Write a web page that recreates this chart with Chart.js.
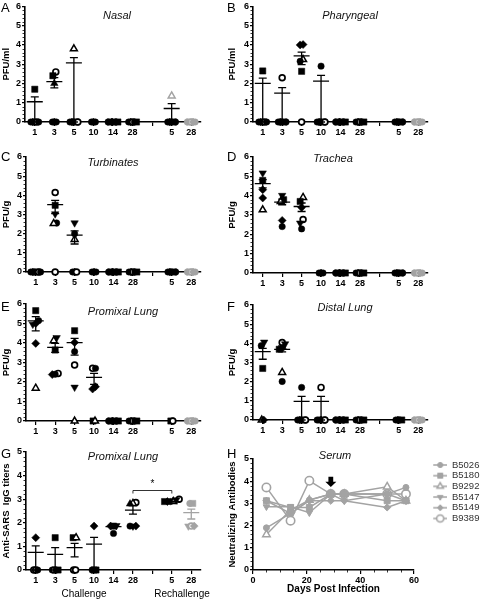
<!DOCTYPE html>
<html><head><meta charset="utf-8">
<script src="https://cdn.jsdelivr.net/npm/chart.js@4.4.1/dist/chart.umd.min.js"></script>
<style>
html,body{margin:0;padding:0;background:#fff;}
#wrap{position:relative;width:480px;height:599px;overflow:hidden;font-family:"Liberation Sans",Arial,sans-serif;color:#000;}
#wrap canvas{position:absolute;}
.lbl{position:absolute;white-space:nowrap;line-height:1;}
.ttl{font-style:italic;font-size:11px;transform:translate(-50%,-50%);color:#111;}
.let{font-size:13px;}
.sub{font-size:10px;transform:translate(-50%,-50%);}
</style></head>
<body><div id="wrap"></div>
<script>
const GRAY = '#a3a3a3';
const FONT = '"Liberation Sans", Arial, sans-serif';
const xLabels = ['1','3','5','10','14','28','','5','28'];

// A  Nasal (PFU/ml)
const nasalVals  = [[1.7,0,0,0,0,0],[2.6,2.4,2.0,0,0,0],[3.8,0,0,0,0,0],[0,0,0],[0,0,0,0,0,0],[0,0,0,0,0],[],[1.35,0,0,0,0,0],[0,0,0,0,0]];
const nasalMarks = ['scdcoc','osacdc','tcdcso','cdc','csdscs','cdocs','','Tcdcsc','CSODC'];
const nasalMean  = [1.05,2.1,3.07,null,null,null,null,0.7,null];
const nasalHi    = [1.3,2.3,3.34,null,null,null,null,0.95,null];
const nasalLo    = [0,1.77,0,null,null,null,null,0,null];

// B  Pharyngeal
const pharVals  = [[2.65,0,0,0,0,0],[2.3,0,0,0,0,0],[4.02,4.0,3.24,3.15,2.63,0],[2.9,0,0,0,0,0],[0,0,0,0,0,0],[0,0,0,0,0],[],[0,0,0,0,0],[0,0,0,0,0]];
const pharMarks = ['scdcoc','ocdcsc','ddtcso','ccdcso','csdscs','cdocs','','cdcsc','CSODC'];
const pharMean  = [2.0,1.5,3.43,2.12,null,null,null,null,null];
const pharHi    = [2.28,1.78,3.63,2.42,null,null,null,null,null];
const pharLo    = [0,0,2.98,0,null,null,null,null,null];

// C  Turbinates (PFU/g)
const turbVals  = [[0,0,0,0,0,0],[4.15,3.48,3.03,2.56,2.53,0],[2.56,2.0,1.7,0,0,0],[0,0,0],[0,0,0,0,0,0],[0,0,0,0,0],[],[0,0,0,0,0],[0,0,0,0,0]];
const turbMarks = ['cdcsoc','osvcto','vctcdo','cdc','csdscs','cdocs','','cdcsc','CSODC'];
const turbMean  = [null,3.52,1.92,null,null,null,null,null,null];
const turbHi    = [null,3.74,2.15,null,null,null,null,null,null];
const turbLo    = [null,3.05,1.46,null,null,null,null,null,null];

// D  Trachea
const trachVals  = [[5.17,4.79,4.31,3.88,3.27],[4.01,3.79,3.7,2.72,2.4],[3.91,3.7,3.39,2.77,2.58,2.28],[0,0,0],[0,0,0,0,0,0],[0,0,0,0,0],[],[0,0,0,0,0],[0,0,0,0,0]];
const trachMarks = ['vsddt','vstdc','tsdovc','cdc','csdscs','cdocs','','cdcsc','CSODC'];
const trachMean  = [4.62,3.67,3.44,null,null,null,null,null,null];
const trachHi    = [4.83,3.82,3.62,null,null,null,null,null,null];
const trachLo    = [4.4,3.53,3.18,null,null,null,null,null,null];

// E  Proximal lung
const proxVals  = [[5.66,5.15,5.0,4.96,3.98,1.68],[4.27,4.12,3.64,2.44,2.38,2.4],[4.63,4.03,3.56,2.87,1.73,0],[2.7,2.7,1.76,1.64,0,0],[0,0,0,0,0,0],[0,0,0,0,0],[],[0,0],[0,0,0,0,0]];
const proxMarks = ['scdvdt','vtsodc','sdcovt','ocddst','csdscs','cdocs','','so','CSODC'];
const proxMean  = [5.13,3.78,4.02,2.24,null,null,null,null,null];
const proxHi    = [5.35,3.98,4.24,2.44,null,null,null,null,null];
const proxLo    = [4.62,3.52,3.38,1.88,null,null,null,null,null];

// F  Distal lung
const distVals  = [[4.06,3.88,2.69,0,0],[4.04,3.97,3.74,3.69,2.48,2.01],[1.7,0,0,0,0,0],[1.7,0,0,0,0,0],[0,0,0,0,0,0],[0,0,0,0,0],[],[0,0,0,0],[0,0,0,0,0]];
const distMarks = ['vcstd','ovdstc','ccdcso','occdso','csdscs','cdocs','','cdcs','CSODC'];
const distMean  = [3.57,3.69,0.97,0.97,null,null,null,null,null];
const distHi    = [3.74,3.86,1.23,1.23,null,null,null,null,null];
const distLo    = [3.17,3.55,0,0,null,null,null,null,null];

// G  Anti-SARS IgG titers
const iggVals  = [[1.37,0,0,0],[1.37,0,0,0,0],[1.37,1.37,0,0],[1.86,0,0,0],[1.88,1.86,1.86,1.55],[2.86,2.82,2.8,1.86,1.86,1.86],[],[3.0,2.97,2.9,2.9,2.9,2.9],[2.82,2.82,1.86,1.86,1.86]];
const iggMarks = ['dooc','scocs','stoo','dcss','vdsc','otacvd','','ovsdct','CSVOD'];
const iggMean  = [0.75,0.66,0.95,1.1,1.84,2.54,null,2.9,2.43];
const iggHi    = [1.02,0.95,1.13,1.38,1.88,2.73,null,2.97,2.58];
const iggLo    = [0,0,0.56,0,1.8,2.37,null,2.83,2.16];
const iggSig   = [5,7,3.4];

// H  Serum neutralizing antibodies
const serumDays  = [5,14,21,29,34,50,57];
const serumNames = ['B5026','B5180','B9292','B5147','B5149','B9389'];
const b5026 = [1.9,2.55,3.15,3.42,3.42,3.42,3.72];
const b5180 = [3.12,2.82,2.82,3.42,3.42,3.12,3.12];
const b9292 = [1.6,2.7,3.15,3.42,3.42,3.75,3.12];
const b5147 = [2.85,2.85,2.58,3.42,3.12,3.42,3.12];
const b5149 = [3.12,2.55,3.12,3.12,3.12,2.82,3.12];
const b9389 = [3.72,2.22,4.02,3.42,3.42,3.42,3.42];
const arrowDay = 29, arrowTop = 4.2, arrowTip = 3.74;

const wrap = document.getElementById('wrap');
function mkCanvas([x,y,w,h]) {
  const c = document.createElement('canvas');
  c.width = w; c.height = h;
  c.style.left = x+'px'; c.style.top = y+'px'; c.style.width = w+'px'; c.style.height = h+'px';
  wrap.appendChild(c);
  return c;
}
function addText(cls, txt, x, y, extra) {
  const d = document.createElement('div');
  d.className = 'lbl ' + cls; d.textContent = txt;
  d.style.left = x+'px'; d.style.top = y+'px';
  if (extra) Object.assign(d.style, extra);
  wrap.appendChild(d);
}

function markStyle(code) {
  const gray = code !== code.toLowerCase();
  const c = code.toLowerCase();
  const col = gray ? GRAY : '#000';
  switch (c) {
    case 'c': return {style:'circle', r:3.2, bg:col, bd:col, bw:0.5, rot:0};
    case 'o': return {style:'circle', r:2.9, bg:'#fff', bd:col, bw:1.7, rot:0};
    case 's': return {style:'rect', r:4.4, bg:col, bd:col, bw:0.5, rot:0};
    case 't': return {style:'triangle', r:4, bg:'#fff', bd:col, bw:1.5, rot:0};
    case 'a': return {style:'triangle', r:4.3, bg:col, bd:col, bw:0.5, rot:0};
    case 'v': return {style:'triangle', r:4.3, bg:col, bd:col, bw:0.5, rot:180};
    case 'd': return {style:'rectRot', r:4, bg:col, bd:col, bw:0.5, rot:0};
  }
  return {style:'circle', r:3, bg:col, bd:col, bw:0.5, rot:0};
}

function swarm(vals, gi) {
  const idx = vals.map((v,k)=>k).sort((a,b)=>vals[a]-vals[b]);
  const xs = vals.map(()=>gi);
  let i = 0;
  while (i < idx.length) {
    let j = i;
    while (j + 1 < idx.length && vals[idx[j+1]] - vals[idx[i]] < 0.3) j++;
    const n = j - i + 1;
    const step = vals[idx[i]] === 0 ? 0.1 : 0.15;
    for (let k = i; k <= j; k++) xs[idx[k]] = gi + (k - i - (n-1)/2) * step;
    i = j + 1;
  }
  return xs;
}

const tickFont = {family: FONT, size: 9, weight: 'bold'};
const titleFont = {family: FONT, size: 9.5, weight: 'bold'};

function panelPlugin(p) {
  return {
    id: 'extra' + p.id,
    afterDatasetsDraw(chart) {
      const {ctx, scales:{x, y}, chartArea} = chart;
      ctx.save();
      ctx.strokeStyle = '#000'; ctx.lineWidth = 0.8;
      const L = chartArea.left;
      for (let k = 1; k < p.ymax * 5; k++) {
        if (k % 5 === 0) continue;
        const py = Math.round(y.getPixelForValue(k / 5)) + 0.5;
        ctx.beginPath(); ctx.moveTo(L - 2.5, py); ctx.lineTo(L, py); ctx.stroke();
      }
      p.mean.forEach((m, gi) => {
        if (m == null) return;
        const px = x.getPixelForValue(gi);
        ctx.strokeStyle = (p.errColor && p.errColor[gi]) || '#000';
        ctx.lineWidth = 1.3;
        const ym = y.getPixelForValue(m), yh = y.getPixelForValue(p.hi[gi]), yl = y.getPixelForValue(p.lo[gi]);
        ctx.beginPath();
        ctx.moveTo(px, yh); ctx.lineTo(px, yl);
        ctx.moveTo(px - 4, yh); ctx.lineTo(px + 4, yh);
        ctx.moveTo(px - 4, yl); ctx.lineTo(px + 4, yl);
        ctx.moveTo(px - 8, ym); ctx.lineTo(px + 8, ym);
        ctx.stroke();
      });
      if (p.sig) {
        const [a, b, v] = p.sig;
        const x1 = x.getPixelForValue(a), x2 = x.getPixelForValue(b), yb = Math.round(y.getPixelForValue(v)) + 0.5;
        ctx.strokeStyle = '#000'; ctx.lineWidth = 0.8;
        ctx.beginPath(); ctx.moveTo(x1, yb + 3); ctx.lineTo(x1, yb); ctx.lineTo(x2, yb); ctx.lineTo(x2, yb + 3); ctx.stroke();
        ctx.fillStyle = '#000'; ctx.font = '10px ' + FONT; ctx.textAlign = 'center'; ctx.textBaseline = 'middle';
        ctx.fillText('*', (x1 + x2) / 2, yb - 6);
      }
      ctx.restore();
    }
  };
}

function scatterPanel(p) {
  const [cx, cy, cw, ch] = p.canvas; const [L, R, T, B] = p.area;
  const cv = mkCanvas(p.canvas);
  const datasets = p.vals.map((grp, gi) => {
    const xs = swarm(grp, gi);
    const st = p.marks[gi].split('').map(markStyle);
    return {
      label: 'g' + gi,
      data: grp.map((v, k) => ({x: xs[k], y: v})),
      pointStyle: st.map(s => s.style), pointRadius: st.map(s => s.r), pointHoverRadius: st.map(s => s.r),
      pointRotation: st.map(s => s.rot), pointBackgroundColor: st.map(s => s.bg),
      pointBorderColor: st.map(s => s.bd), pointBorderWidth: st.map(s => s.bw),
      showLine: false, clip: false
    };
  });
  new Chart(cv, {
    type: 'scatter',
    data: {datasets},
    options: {
      responsive: false, animation: false, devicePixelRatio: 1, events: [],
      layout: {padding: {left: 0, top: T - cy, right: cx + cw - R, bottom: 0}},
      plugins: {legend: {display: false}, tooltip: {enabled: false}},
      scales: {
        x: {
          type: 'linear', min: -0.5, max: 8.5,
          afterBuildTicks: s => { s.ticks = xLabels.map((l, i) => ({value: i})); },
          afterFit: s => { s.height = cy + ch - B; },
          ticks: {callback: v => xLabels[v] ?? '', font: tickFont, color: '#000', padding: 1, maxRotation: 0, autoSkip: false},
          grid: {display: true, drawOnChartArea: false, drawTicks: true, tickLength: 4, color: '#000', lineWidth: 1.2},
          border: {display: true, color: '#000', width: 1.6}
        },
        y: {
          min: 0, max: p.ymax,
          afterFit: s => { s.width = L - cx; },
          ticks: {stepSize: 1, font: tickFont, color: '#000', padding: 1},
          grid: {display: true, drawOnChartArea: false, drawTicks: true, tickLength: 3, color: '#000', lineWidth: 1.2},
          border: {display: true, color: '#000', width: 1.6},
          title: {display: true, text: p.ytitle, font: titleFont, color: '#000', padding: {top: 1, bottom: 0}}
        }
      }
    },
    plugins: [panelPlugin(p)]
  });
}

const panels = [
  {id:'A', canvas:[0,0,226,145],   area:[25,201,6,122],   ymax:6, ytitle:'PFU/ml', vals:nasalVals, marks:nasalMarks, mean:nasalMean, hi:nasalHi, lo:nasalLo},
  {id:'B', canvas:[226,0,254,145], area:[253,428,6,122],  ymax:6, ytitle:'PFU/ml', vals:pharVals, marks:pharMarks, mean:pharMean, hi:pharHi, lo:pharLo},
  {id:'C', canvas:[0,145,226,145], area:[26,201,157,272], ymax:6, ytitle:'PFU/g', vals:turbVals, marks:turbMarks, mean:turbMean, hi:turbHi, lo:turbLo},
  {id:'D', canvas:[226,145,254,145], area:[253,428,157,273], ymax:6, ytitle:'PFU/g', vals:trachVals, marks:trachMarks, mean:trachMean, hi:trachHi, lo:trachLo},
  {id:'E', canvas:[0,290,226,150], area:[26,201,304,421], ymax:6, ytitle:'PFU/g', vals:proxVals, marks:proxMarks, mean:proxMean, hi:proxHi, lo:proxLo},
  {id:'F', canvas:[226,290,254,150], area:[253,428,305,420], ymax:6, ytitle:'PFU/g', vals:distVals, marks:distMarks, mean:distMean, hi:distHi, lo:distLo},
  {id:'G', canvas:[0,440,226,159], area:[26,201,452,570], ymax:5, ytitle:'Anti-SARS  IgG titers', vals:iggVals, marks:iggMarks, mean:iggMean, hi:iggHi, lo:iggLo,
   errColor:[null,null,null,null,null,null,null,null,GRAY], sig:iggSig}
];
panels.forEach(scatterPanel);

// ---- H: serum ----
function drawMark(ctx, s, x, y) {
  ctx.beginPath();
  const r = s.r;
  if (s.style === 'circle') ctx.arc(x, y, r, 0, Math.PI * 2);
  else if (s.style === 'rect') { const h = r * Math.SQRT1_2; ctx.rect(x - h, y - h, 2 * h, 2 * h); }
  else if (s.style === 'rectRot') { ctx.moveTo(x, y - r); ctx.lineTo(x + r, y); ctx.lineTo(x, y + r); ctx.lineTo(x - r, y); ctx.closePath(); }
  else {
    const off = s.rot === 180 ? Math.PI : 0;
    for (let k = 0; k < 3; k++) {
      const a = off + k * 2 * Math.PI / 3;
      const px = x + Math.sin(a) * r, py = y - Math.cos(a) * r;
      if (k === 0) ctx.moveTo(px, py); else ctx.lineTo(px, py);
    }
    ctx.closePath();
  }
  ctx.fillStyle = s.bg; ctx.fill();
  ctx.strokeStyle = s.bd; ctx.lineWidth = s.bw; ctx.stroke();
}
const serumSeries = [b5026, b5180, b9292, b5147, b5149, b9389];
const serumStyles = [
  {style:'circle', r:3, bg:GRAY, bd:GRAY, bw:1, rot:0},
  {style:'rect', r:4.2, bg:GRAY, bd:GRAY, bw:1, rot:0},
  {style:'triangle', r:4.3, bg:'#fff', bd:GRAY, bw:1.5, rot:0},
  {style:'triangle', r:3.8, bg:GRAY, bd:GRAY, bw:1, rot:180},
  {style:'rectRot', r:3.6, bg:GRAY, bd:GRAY, bw:1, rot:0},
  {style:'circle', r:4.2, bg:'#fff', bd:GRAY, bw:1.6, rot:0}
];
const legendImgs = serumStyles.map(s => {
  const c = document.createElement('canvas'); c.width = 32; c.height = 12;
  const g = c.getContext('2d');
  g.strokeStyle = GRAY; g.lineWidth = 1.5;
  g.beginPath(); g.moveTo(18, 6); g.lineTo(32, 6); g.stroke();
  drawMark(g, Object.assign({}, s, {r: s.r * 0.85}), 25, 6);
  return c;
});
const H = {canvas:[226,440,254,159], area:[253,414,459,570]};
{
  const [cx, cy, cw, ch] = H.canvas; const [L, R, T, B] = H.area;
  const cv = mkCanvas(H.canvas);
  new Chart(cv, {
    type: 'scatter',
    data: {datasets: serumSeries.map((vals, i) => ({
      label: serumNames[i],
      data: vals.map((v, k) => ({x: serumDays[k], y: v})),
      showLine: true, borderColor: GRAY, borderWidth: 1.5, clip: false,
      pointStyle: serumStyles[i].style, pointRadius: serumStyles[i].r, pointHoverRadius: serumStyles[i].r,
      pointRotation: serumStyles[i].rot, pointBackgroundColor: serumStyles[i].bg,
      pointBorderColor: serumStyles[i].bd, pointBorderWidth: serumStyles[i].bw
    }))},
    options: {
      responsive: false, animation: false, devicePixelRatio: 1, events: [],
      layout: {padding: {left: 0, top: T - cy, right: 0, bottom: 0}},
      plugins: {
        tooltip: {enabled: false},
        legend: {
          position: 'right', align: 'start', maxWidth: cx + cw - R,
          labels: {
            usePointStyle: true, pointStyleWidth: 32, padding: 1.2, color: '#333',
            font: {family: FONT, size: 9.5},
            generateLabels: chart => chart.data.datasets.map((ds, i) => ({
              text: ds.label, pointStyle: legendImgs[i], fillStyle: '#fff', strokeStyle: '#fff',
              lineWidth: 0, hidden: false, datasetIndex: i, fontColor: '#333'
            }))
          }
        }
      },
      scales: {
        x: {
          type: 'linear', min: 0, max: 60,
          afterFit: s => { s.height = cy + ch - B; },
          ticks: {stepSize: 20, font: tickFont, color: '#000', padding: 1, maxRotation: 0},
          grid: {display: true, drawOnChartArea: false, drawTicks: true, tickLength: 4, color: '#000', lineWidth: 1.2},
          border: {display: true, color: '#000', width: 1.6},
          title: {display: true, text: 'Days Post Infection', font: {family: FONT, size: 10, weight: 'bold'}, color: '#000', padding: {top: 0, bottom: 4}}
        },
        y: {
          min: 0, max: 5,
          afterFit: s => { s.width = L - cx; },
          ticks: {stepSize: 1, font: tickFont, color: '#000', padding: 1},
          grid: {display: true, drawOnChartArea: false, drawTicks: true, tickLength: 3, color: '#000', lineWidth: 1.2},
          border: {display: true, color: '#000', width: 1.6},
          title: {display: true, text: 'Neutralizing Antibodies', font: titleFont, color: '#000', padding: {top: 1, bottom: 0}}
        }
      }
    },
    plugins: [{
      id: 'serumExtra',
      afterDatasetsDraw(chart) {
        const {ctx, scales:{x, y}, chartArea} = chart;
        ctx.save();
        ctx.strokeStyle = '#000'; ctx.lineWidth = 0.8;
        for (let k = 1; k < 25; k++) {
          if (k % 5 === 0) continue;
          const py = Math.round(y.getPixelForValue(k / 5)) + 0.5;
          ctx.beginPath(); ctx.moveTo(chartArea.left - 2.5, py); ctx.lineTo(chartArea.left, py); ctx.stroke();
        }
        for (let d = 5; d < 60; d += 5) {
          if (d % 20 === 0) continue;
          const px = Math.round(x.getPixelForValue(d)) + 0.5;
          ctx.beginPath(); ctx.moveTo(px, chartArea.bottom); ctx.lineTo(px, chartArea.bottom + 2.5); ctx.stroke();
        }
        const ax = x.getPixelForValue(arrowDay), y1 = y.getPixelForValue(arrowTop), y2 = y.getPixelForValue(arrowTip);
        const hy = y2 - (y2 - y1) * 0.5;
        ctx.fillStyle = '#000';
        ctx.beginPath();
        ctx.moveTo(ax - 2.4, y1); ctx.lineTo(ax + 2.4, y1); ctx.lineTo(ax + 2.4, hy); ctx.lineTo(ax + 5.5, hy);
        ctx.lineTo(ax, y2); ctx.lineTo(ax - 5.5, hy); ctx.lineTo(ax - 2.4, hy); ctx.closePath(); ctx.fill();
        ctx.restore();
      }
    }]
  });
}

// ---- text overlays ----
[['A',1,1.3],['B',227,1.3],['C',1,150.3],['D',227,150.3],['E',1,300.3],['F',227,300.3],['G',1,447.3],['H',227,447.3]]
  .forEach(([t,x,y]) => addText('let', t, x, y));
[['Nasal',117,15],['Pharyngeal',350,15],['Turbinates',113,162],['Trachea',333,158],
 ['Promixal Lung',123,311],['Distal Lung',345,307],['Promixal Lung',123,456],['Serum',335,455]]
  .forEach(([t,x,y]) => addText('ttl', t, x, y));
addText('sub', 'Challenge', 84, 594);
addText('sub', 'Rechallenge', 182, 594);
</script></body></html>
